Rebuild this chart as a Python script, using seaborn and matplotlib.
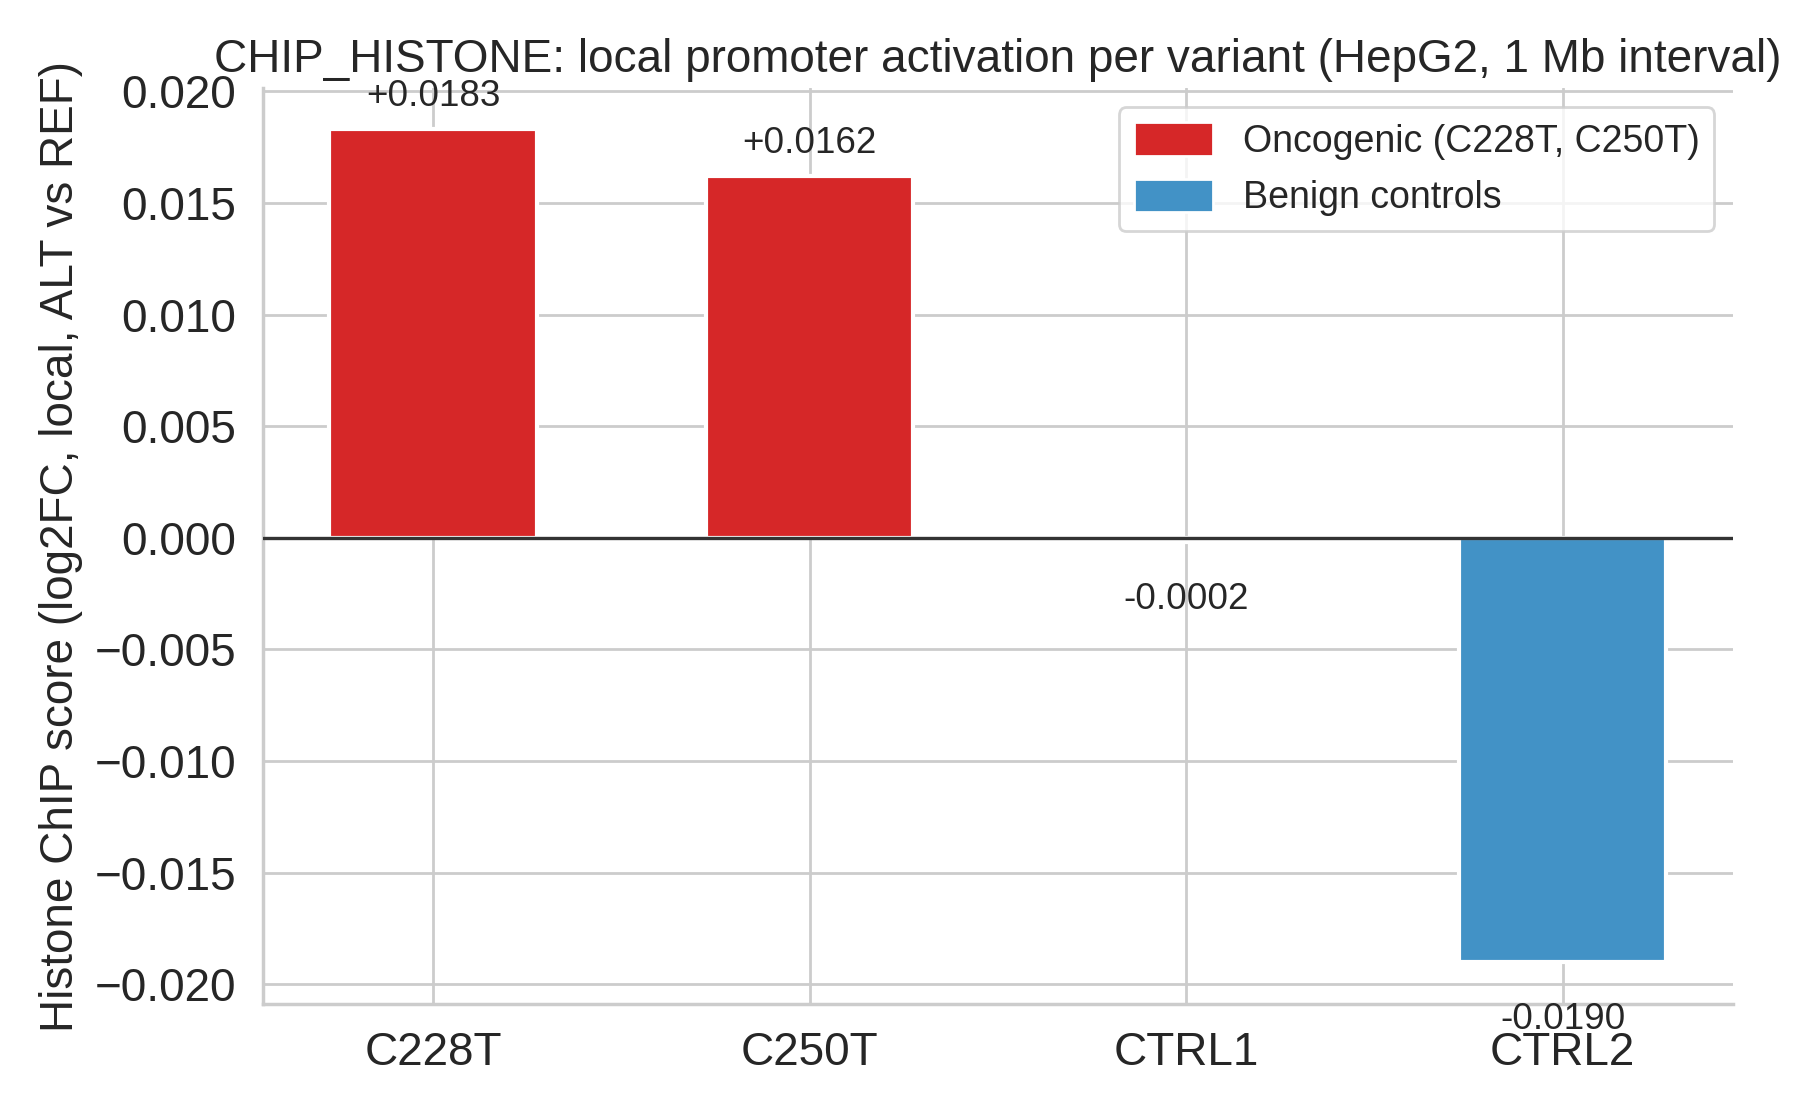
import matplotlib
matplotlib.use("Agg")
import matplotlib.pyplot as plt
from matplotlib.patches import Patch
import pandas as pd
import seaborn as sns

# === Dati ===
variants = ["C228T", "C250T", "CTRL1", "CTRL2"]
scores = [0.0183, 0.0162, -0.0002, -0.0190]
groups = ["Oncogenic", "Oncogenic", "Benign", "Benign"]
group_labels = {"Oncogenic": "Oncogenic (C228T, C250T)", "Benign": "Benign controls"}
group_colors = {"Oncogenic": "#d62728", "Benign": "#4292c6"}

df = pd.DataFrame({"variant": variants, "score": scores, "group": groups})

# === Stile ===
sns.set_theme(style="whitegrid", font_scale=1.5)
plt.rcParams["font.family"] = ["Liberation Sans", "DejaVu Sans"]

fig, ax = plt.subplots(figsize=(9.055, 5.53), dpi=200)
fig.subplots_adjust(left=0.145, right=0.957, top=0.920, bottom=0.092)

sns.barplot(data=df, x="variant", y="score", hue="group", palette=group_colors,
            dodge=False, width=0.55, saturation=1, edgecolor="white", linewidth=1.5,
            ax=ax, legend=False)

ax.axhline(0, color="#333333", linewidth=1.2, zorder=3)

# etichette valori
for i, v in enumerate(scores):
    if v >= 0:
        ax.text(i, v + 0.0007, f"{v:+.4f}", ha="center", va="bottom", fontsize=13.3)
    else:
        ax.text(i, v - 0.0018, f"{v:+.4f}", ha="center", va="top", fontsize=13.3)

ax.set_xlim(-0.4525, 3.4525)
ax.set_ylim(min(scores) * 1.1, max(scores) * 1.1)
ax.xaxis.grid(True)
ax.set_xlabel("")
ax.set_ylabel("Histone ChIP score (log2FC, local, ALT vs REF)", fontsize=16.5)
ax.set_title("CHIP_HISTONE: local promoter activation per variant (HepG2, 1 Mb interval)",
             fontsize=16.5)

handles = [Patch(facecolor=group_colors[g], label=group_labels[g]) for g in ["Oncogenic", "Benign"]]
ax.legend(handles=handles, loc="upper right", fontsize=13.5, handleheight=1.0, handlelength=2.1)

sns.despine(ax=ax)
for s in ["left", "bottom"]:
    ax.spines[s].set_color("#cccccc")

plt.savefig("out.png", dpi=200)
